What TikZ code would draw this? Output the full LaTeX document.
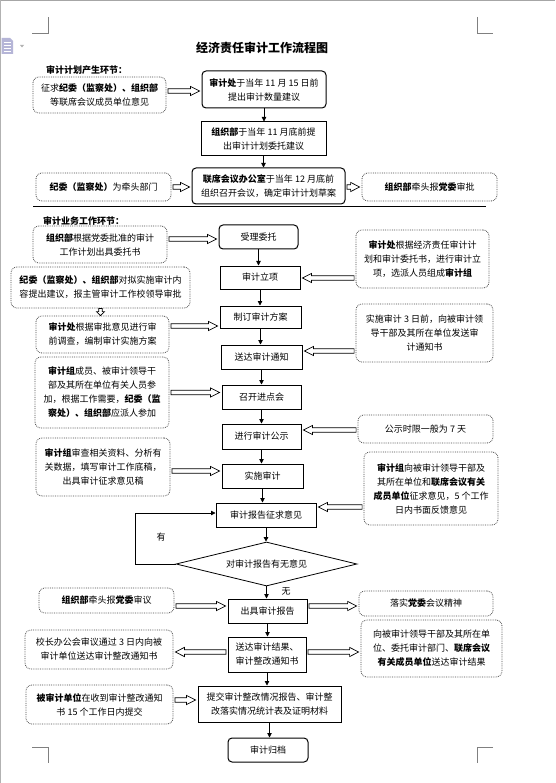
\documentclass[tikz,border=0pt]{standalone}
\usepackage{fontspec}
\setmainfont{Noto Sans CJK SC}
\usetikzlibrary{arrows.meta,shapes.geometric,calc}
\tikzset{blkstyle/.style={draw=black, line width=0.7pt, fill=white}}
\newcommand\blkarrow[2]{%
  \path (#1) coordinate (bs) (#2) coordinate (be);
  \draw[blkstyle] let \p1=(bs), \p2=(be), \n1={ifthenelse(\x2>\x1,1,-1)} in
    (\x1+\n1*1.5pt, \y1+2.3pt) -- (\x2-\n1*11pt, \y1+2.3pt) -- (\x2-\n1*11pt, \y1+4.6pt)
    -- (\x2-\n1*2pt, \y1) -- (\x2-\n1*11pt, \y1-4.6pt) -- (\x2-\n1*11pt, \y1-2.3pt)
    -- (\x1+\n1*1.5pt, \y1-2.3pt) -- cycle;}
\newcommand\blkarrowv[2]{%
  \path (#1) coordinate (bs) (#2) coordinate (be);
  \draw[blkstyle] let \p1=(bs), \p2=(be) in
    (\x1-1.8pt,\y1) -- (\x1-1.8pt,\y2+4pt) -- (\x1-4pt,\y2+4pt) -- (\x1,\y2)
    -- (\x1+4pt,\y2+4pt) -- (\x1+1.8pt,\y2+4pt) -- (\x1+1.8pt,\y1) -- cycle;}
\begin{document}
\begin{tikzpicture}[x=1pt,y=-1pt,
  every node/.style={font=\fontsize{9}{14}\selectfont, align=center, inner sep=0pt},
  solidbox/.style={draw, line width=1pt},
  roundbox/.style={draw, line width=1pt, rounded corners=4pt},
  dotbox/.style={draw=black!70, densely dotted, line width=0.8pt, rounded corners=6pt},
  arr/.style={-{Triangle[length=4.5pt,width=4.5pt]}, line width=0.8pt},
  cropmark/.style={draw=black!50, line width=0.8pt}
]
\useasboundingbox (0,0) rectangle (555,783);
\fill[white] (0,0) rectangle (555,783);
% page edges
\draw[gray!70, line width=1.4pt] (0,0.5) -- (555,0.5);
\draw[gray!60, line width=1pt] (0.8,0) -- (0.8,783);
% crop marks
\draw[cropmark] (32,33) -- (48,33) -- (48,17);
\draw[cropmark] (477,17) -- (477,33) -- (493,33);
\draw[cropmark] (32,747) -- (48,747) -- (48,763);
\draw[cropmark] (493,747) -- (477,747) -- (477,763);
% document icon
\fill[blue!30!gray!45] (1.5,38) -- (10,38) -- (13,41) -- (13,54) -- (1.5,54) -- cycle;
\foreach \yy in {42,45,48,51} \draw[white, line width=0.8pt] (3.5,\yy) -- (11,\yy);
\fill[gray!60] (20,45) -- (24,45) -- (22,47.5) -- cycle;

% title
\node[font=\fontsize{12}{14}\selectfont\bfseries] (title) at (262,48) {经济责任审计工作流程图};
\node[font=\fontsize{9}{14}\selectfont\bfseries] (sec1) at (86.5,70) {审计计划产生环节：};

% planning stage
\node[dotbox, minimum width=133pt, minimum height=36pt] (A) at (99.5,95) {征求\textbf{纪委（监察处）、组织部}\\等联席会议成员单位意见};
\node[roundbox, minimum width=124pt, minimum height=37pt] (B) at (264,89.5) {\textbf{审计处}于当年 11 月 15 日前\\提出审计数量建议};
\node[solidbox, minimum width=125pt, minimum height=34pt] (C) at (263.5,139) {\textbf{组织部}于当年 11 月底前提\\出审计计划委托建议};
\node[roundbox, minimum width=153pt, minimum height=36pt] (D) at (268.5,186) {\textbf{联席会议办公室}于当年 12 月底前\\组织召开会议，确定审计计划草案};
\node[dotbox, minimum width=135pt, minimum height=28pt] (E) at (103.5,187) {\textbf{纪委（监察处）}为牵头部门};
\node[dotbox, minimum width=135pt, minimum height=28pt] (F) at (429.5,187) {\textbf{组织部}牵头报\textbf{党委}审批};

\blkarrow{[yshift=4pt]A.east}{B.west}
\draw[arr] (B.south) -- (B.south |- C.north);
\draw[arr] (C.south) -- (C.south |- D.north);
\blkarrow{E.east}{D.west}
\blkarrow{[yshift=-1pt]D.east}{F.west}

\coordinate (sepL) at (33,207);
\coordinate (sepR) at (486,207);
\draw[line width=1pt] (sepL) -- (sepR);

\node[font=\fontsize{9}{14}\selectfont\bfseries] (sec2) at (83.5,221) {审计业务工作环节：};

% audit stage
\node[dotbox, minimum width=134pt, minimum height=37pt] (G) at (100,244.5) {\textbf{组织部}根据党委批准的审计\\工作计划出具委托书};
\node[roundbox, minimum width=79pt, minimum height=24pt] (H) at (258.5,237) {受理委托};
\node[solidbox, minimum width=80pt, minimum height=23pt] (I) at (260,277.5) {审计立项};
\node[dotbox, minimum width=133pt, minimum height=58pt] (J) at (422.5,259) {\textbf{审计处}根据经济责任审计计\\划和审计委托书，进行审计立\\项，选派人员组成\textbf{审计组}};
\node[dotbox, minimum width=179pt, minimum height=41pt] (K) at (100.5,287.5) {\textbf{纪委（监察处）、组织部}对拟实施审计内\\容提出建议，报主管审计工作校领导审批};
\node[dotbox, minimum width=133pt, minimum height=37pt] (L) at (102.5,334.5) {\textbf{审计处}根据审批意见进行审\\前调查，编制审计实施方案};
\node[solidbox, minimum width=81pt, minimum height=22pt] (M) at (260.5,317) {制订审计方案};
\node[solidbox, minimum width=81pt, minimum height=24pt] (N) at (261.5,357) {送达审计通知};
\node[dotbox, minimum width=137pt, minimum height=58pt] (O) at (424.5,333) {实施审计 3 日前，向被审计领\\导干部及其所在单位发送审\\计通知书};
\node[solidbox, minimum width=79pt, minimum height=24pt] (P) at (261.5,397) {召开进点会};
\node[dotbox, minimum width=134pt, minimum height=71pt] (Q) at (102,392.5) {\textbf{审计组}成员、被审计领导干\\部及其所在单位有关人员参\\加，根据工作需要，\textbf{纪委（监}\\\textbf{察处）、组织部}应派人参加};
\node[solidbox, minimum width=79pt, minimum height=25pt] (R) at (261.5,436.5) {进行审计公示};
\node[dotbox, minimum width=135pt, minimum height=28pt] (S) at (425.5,429) {公示时限一般为 7 天};
\node[solidbox, minimum width=81pt, minimum height=24pt] (T) at (262.5,476) {实施审计};
\node[dotbox, minimum width=134pt, minimum height=58pt] (U) at (103,467) {\textbf{审计组}审查相关资料、分析有\\关数据，填写审计工作底稿，\\出具审计征求意见稿};
\node[solidbox, minimum width=100pt, minimum height=24pt] (V) at (266,515) {审计报告征求意见};
\node[dotbox, minimum width=134pt, minimum height=73pt] (W) at (431,488.5) {\textbf{审计组}向被审计领导干部及\\其所在单位和\textbf{联席会议有关}\\\textbf{成员单位}征求意见，5 个工作\\日内书面反馈意见};
\node[diamond, draw, line width=0.8pt, shape aspect=4.11, minimum width=181pt, minimum height=44pt] (X) at (266.5,564) {对审计报告有无意见};
\node[solidbox, minimum width=79pt, minimum height=24pt] (Y) at (267.5,611) {出具审计报告};
\node[dotbox, minimum width=135pt, minimum height=25pt] (Z1) at (106.5,600.5) {\textbf{组织部}牵头报\textbf{党委}审议};
\node[dotbox, minimum width=134pt, minimum height=25pt] (Z2) at (426,603.5) {落实\textbf{党委}会议精神};
\node[solidbox, minimum width=78pt, minimum height=35pt] (AA) at (267,654.5) {送达审计结果、\\审计整改通知书};
\node[dotbox, minimum width=148pt, minimum height=39pt] (AB) at (99,649.5) {校长办公会审议通过 3 日内向被\\审计单位送达审计整改通知书};
\node[dotbox, minimum width=141pt, minimum height=57pt] (AC) at (431.5,648.5) {向被审计领导干部及其所在单\\位、委托审计部门、\textbf{联席会议}\\\textbf{有关成员单位}送达审计结果};
\node[solidbox, minimum width=143pt, minimum height=36pt] (AD) at (269.5,704) {提交审计整改情况报告、审计整\\改落实情况统计表及证明材料};
\node[dotbox, minimum width=147pt, minimum height=39pt] (AE) at (99.5,704.5) {\textbf{被审计单位}在收到审计整改通知\\书 15 个工作日内提交};
\node[roundbox, minimum width=80pt, minimum height=24pt] (AF) at (268,750) {审计归档};

\node (you) at (161,537) {有};
\node (wu) at (286,591) {无};

% main flow arrows
\draw[arr] (H.south) -- (H.south |- I.north);
\draw[arr] (I.south) -- (I.south |- M.north);
\draw[arr] (M.south) -- (M.south |- N.north);
\draw[arr] (N.south) -- (N.south |- P.north);
\draw[arr] (P.south) -- (P.south |- R.north);
\draw[arr] (R.south) -- (R.south |- T.north);
\draw[arr] (T.south) -- (T.south |- V.north);
\draw[arr] (V.south) -- (V.south |- X.north);
\draw[arr] (X.south) -- (X.south |- Y.north);
\draw[arr] (Y.south) -- (Y.south |- AA.north);
\draw[arr] (AA.south) -- (AA.south |- AD.north);
\draw[arr] (AD.south) -- (AD.south |- AF.north);
\coordinate (loop) at (135,564);
\draw[arr] (X.west) -- (loop) |- ([yshift=2pt]V.west);

% block arrows
\blkarrow{[yshift=5.5pt]G.east}{H.west}
\blkarrow{[yshift=-19pt]J.west}{I.east}
\blkarrowv{K.south}{L.north}
\blkarrow{[yshift=8.5pt]L.east}{M.west}
\blkarrow{[yshift=-18pt]O.west}{N.east}
\blkarrow{Q.east}{P.west}
\blkarrow{[yshift=-1pt]S.west}{R.east}
\blkarrow{[yshift=-4pt]U.east}{T.west}
\blkarrow{[yshift=-18.5pt]W.west}{V.east}
\blkarrow{[yshift=-5.5pt]Z1.east}{Y.west}
\blkarrow{[yshift=5pt]Y.east}{Z2.west}
\blkarrow{[yshift=2.5pt]AA.west}{AB.east}
\blkarrow{[yshift=2.5pt]AA.east}{AC.west}
\blkarrow{[yshift=4.5pt]AE.east}{AD.west}
\end{tikzpicture}
\end{document}
